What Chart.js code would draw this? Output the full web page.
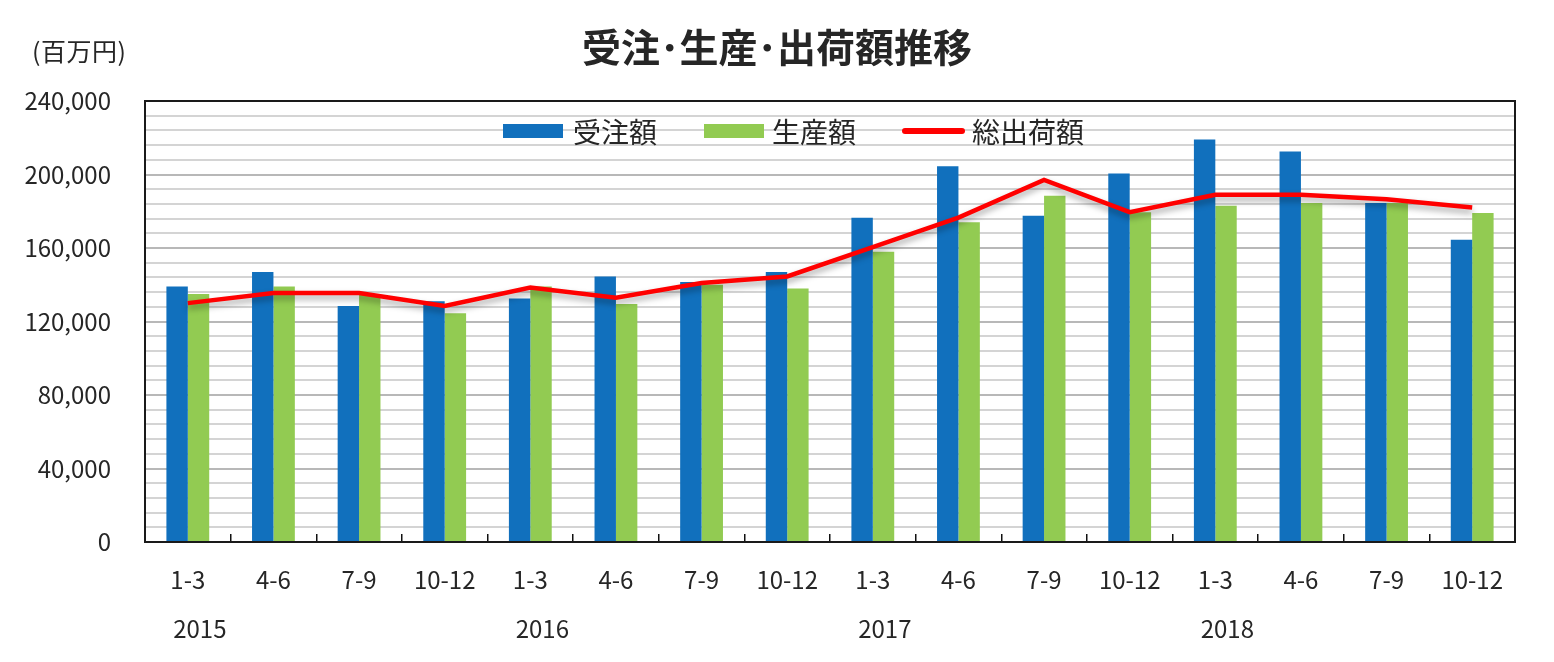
<!DOCTYPE html>
<html lang="ja">
<head>
<meta charset="utf-8">
<script src="https://cdn.jsdelivr.net/npm/chart.js@4.4.1/dist/chart.umd.min.js"></script>
<style>
  html, body { margin: 0; padding: 0; background: #fff; }
  #wrap { position: relative; width: 1554px; height: 662px; overflow: hidden; font-family: "Noto Sans CJK JP", "Noto Sans", sans-serif; color: #262626; }
  #c { position: absolute; left: 0; top: 0; }
  .txt { position: absolute; white-space: nowrap; line-height: 1; }
  #title { left: 0; width: 1554px; text-align: center; top: 26px; font-size: 39px; font-weight: bold; color: #262626; }
  #unit { left: 32px; top: 38px; font-size: 25px; letter-spacing: 0.5px; }
  .lbox { position: absolute; }
  .ltxt { position: absolute; font-size: 28px; line-height: 1; top: 117px; white-space: nowrap; }
</style>
</head>
<body>
<div id="wrap">
  <canvas id="c" width="1554" height="662"></canvas>
  <div id="title" class="txt">受注･生産･出荷額推移</div>
  <div id="unit" class="txt">(百万円)</div>
  <div id="legend"></div>
</div>
<script>
// ---- data ----
const quarters = ['1-3','4-6','7-9','10-12','1-3','4-6','7-9','10-12','1-3','4-6','7-9','10-12','1-3','4-6','7-9','10-12'];
const years = ['2015','','','','2016','','','','2017','','','','2018','','',''];
const ordersReceived = [139000,147000,128500,131000,132500,144500,141500,147000,176500,204500,177500,200500,219000,212500,184500,164500];
const production = [135000,139000,134500,124500,139000,129500,140000,138000,158000,174000,188500,179500,183000,184500,184500,179000];
const totalShipments = [130000,135500,135500,128500,138500,133000,141000,144500,160500,176500,197000,179500,189000,189000,186500,182000];
const seriesNames = ['受注額','生産額','総出荷額'];
const yTickValues = [0,40000,80000,120000,160000,200000,240000];

const BLUE = '#1170BD', GREEN = '#92CB52', RED = '#FF0000';
const FONT = '"Noto Sans CJK JP", "Noto Sans", sans-serif';

const framePlugin = {
  id: 'frame',
  afterDraw(chart) {
    const {ctx, chartArea: a} = chart;
    ctx.save();
    ctx.strokeStyle = '#1a1a1a';
    ctx.lineWidth = 2;
    ctx.strokeRect(a.left, a.top, a.right - a.left, a.bottom - a.top);
    ctx.restore();
  }
};
const shadowPlugin = {
  id: 'lineShadow',
  beforeDatasetDraw(chart, args) {
    if (args.meta.type === 'line') {
      const ctx = chart.ctx;
      ctx.save();
      ctx.shadowColor = 'rgba(0,0,0,0.35)';
      ctx.shadowBlur = 6;
      ctx.shadowOffsetY = 4;
    }
  },
  afterDatasetDraw(chart, args) {
    if (args.meta.type === 'line') chart.ctx.restore();
  }
};

const chart = new Chart(document.getElementById('c'), {
  data: {
    labels: quarters,
    datasets: [
      { type: 'bar', label: seriesNames[0], data: ordersReceived, backgroundColor: BLUE, order: 1,
        categoryPercentage: 0.5, barPercentage: 1.0 },
      { type: 'bar', label: seriesNames[1], data: production, backgroundColor: GREEN, order: 1,
        categoryPercentage: 0.5, barPercentage: 1.0 },
      { type: 'line', label: seriesNames[2], data: totalShipments, borderColor: RED, backgroundColor: RED,
        borderWidth: 4.5, pointRadius: 0, tension: 0, order: 0 }
    ]
  },
  options: {
    responsive: false,
    animation: false,
    devicePixelRatio: 1,
    layout: { padding: { top: 101, right: 39, bottom: 0, left: 0 } },
    plugins: { legend: { display: false }, tooltip: { enabled: false }, title: { display: false } },
    scales: {
      x: {
        type: 'category',
        position: 'bottom',
        weight: 0,
        offset: true,
        grid: { offset: true, drawOnChartArea: false, drawTicks: true, tickLength: -8, color: '#111', lineWidth: 1.5 },
        border: { display: false },
        ticks: { color: '#262626', font: { family: FONT, size: 24 }, padding: 31, autoSkip: false, maxRotation: 0 },
        afterFit(s) { s.height = 50; }
      },
      x2: {
        type: 'category',
        position: 'bottom',
        weight: 1,
        offset: true,
        labels: years,
        grid: { display: false, drawTicks: false },
        border: { display: false },
        ticks: { color: '#262626', font: { family: FONT, size: 24 }, padding: 22, autoSkip: false, maxRotation: 0, labelOffset: 12 },
        afterFit(s) { s.height = 70; }
      },
      y: {
        min: 0, max: 240000,
        grid: {
          drawTicks: false,
          lineWidth: 2,
          color: (c) => (c.tick && yTickValues.includes(c.tick.value)) ? '#b8b8b8' : '#d4d4d4'
        },
        border: { display: false },
        ticks: {
          stepSize: 8000, autoSkip: false, maxTicksLimit: 100, padding: 34,
          color: '#262626', font: { family: FONT, size: 24 },
          callback: (v) => yTickValues.includes(v) ? v.toLocaleString('en-US') : ''
        },
        afterFit(s) { s.width = 145; }
      }
    }
  },
  plugins: [shadowPlugin, framePlugin]
});

// HTML legend built from dataset definitions
(function buildLegend() {
  const lg = document.getElementById('legend');
  const ds = chart.data.datasets;
  const items = [
    { box: [503, 124, 60, 14], text: 573 },
    { box: [704, 124, 60, 14], text: 772 },
    { box: [902, 128, 63, 6], text: 972 }
  ];
  items.forEach((it, i) => {
    const b = document.createElement('div');
    b.className = 'lbox';
    b.style.left = it.box[0] + 'px'; b.style.top = it.box[1] + 'px';
    b.style.width = it.box[2] + 'px'; b.style.height = it.box[3] + 'px';
    b.style.background = ds[i].type === 'line' ? ds[i].borderColor : ds[i].backgroundColor;
    if (ds[i].type === 'line') b.style.borderRadius = '3px';
    lg.appendChild(b);
    const t = document.createElement('div');
    t.className = 'ltxt';
    t.style.left = it.text + 'px';
    t.textContent = ds[i].label;
    lg.appendChild(t);
  });
})();
</script>
</body>
</html>
